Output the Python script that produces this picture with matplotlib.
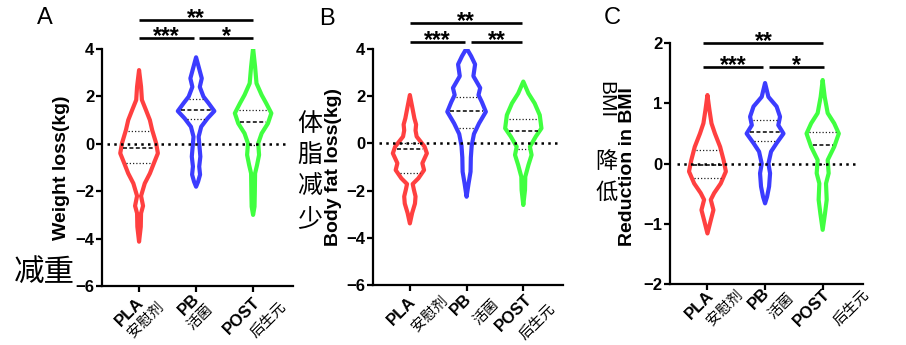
import numpy as np
import matplotlib.pyplot as plt

plt.rcParams['font.family'] = ['Liberation Sans', 'Noto Sans CJK SC']

W, H = 906, 345

groups = ["PLA", "PB", "POST"]
groups_cn = ["安慰剂", "活菌", "后生元"]
colors = ["#ff4040", "#3c3cff", "#40ff40"]

# violin outlines: y level and half width (in category units)
# A - weight loss (kg)
wt_pla_y = [-4.13, -3.5, -2.93, -2.62, -2.2, -1.67, -1.25, -0.82, -0.40, 0.02, 0.58, 1.0, 1.43, 1.85, 2.41, 3.11]
wt_pla_w = [0, 0.03, 0.035, 0.07, 0.035, 0.10, 0.19, 0.26, 0.33, 0.30, 0.23, 0.19, 0.12, 0.05, 0.035, 0]
wt_pb_y = [-1.81, -1.6, -1.3, -0.96, -0.54, -0.12, 0.30, 0.72, 1.07, 1.38, 1.71, 1.99, 2.40, 2.76, 3.25, 3.65]
wt_pb_w = [0, 0.035, 0.07, 0.055, 0.075, 0.06, 0.045, 0.09, 0.20, 0.32, 0.22, 0.13, 0.065, 0.10, 0.045, 0]
wt_post_y = [-3.0, -2.65, -2.09, -1.25, -0.89, -0.47, 0.02, 0.44, 0.86, 1.29, 1.71, 2.06, 2.55, 3.25, 4.03]
wt_post_w = [0, 0.025, 0.03, 0.035, 0.07, 0.105, 0.09, 0.15, 0.26, 0.32, 0.23, 0.15, 0.06, 0.035, 0]
wt_quart = [(-0.80, -0.19, 0.54), (1.05, 1.43, 1.88), (-0.05, 0.93, 1.43)]

# B - body fat loss (kg)
fat_pla_y = [-3.39, -2.95, -2.55, -2.25, -1.95, -1.72, -1.48, -1.13, -0.84, -0.42, -0.14, 0.29, 0.55, 0.80, 1.06, 1.56, 2.05]
fat_pla_w = [0, 0.04, 0.09, 0.10, 0.07, 0.05, 0.15, 0.25, 0.22, 0.30, 0.26, 0.12, 0.10, 0.11, 0.08, 0.04, 0]
fat_pb_y = [-2.26, -1.7, -1.2, -0.6, -0.1, 0.4, 0.85, 1.34, 1.75, 2.05, 2.35, 2.85, 3.35, 3.7, 4.03]
fat_pb_w = [0, 0.035, 0.07, 0.075, 0.09, 0.13, 0.22, 0.34, 0.27, 0.21, 0.24, 0.12, 0.15, 0.08, 0]
fat_post_y = [-2.61, -1.97, -1.41, -0.92, -0.49, -0.14, 0.29, 0.64, 1.20, 1.70, 2.12, 2.62]
fat_post_w = [0, 0.03, 0.035, 0.09, 0.146, 0.117, 0.22, 0.32, 0.29, 0.20, 0.09, 0]
fat_quart = [(-1.24, -0.24, 0.03), (0.64, 1.37, 1.98), (-0.25, 0.54, 1.03)]

# C - reduction in BMI
bmi_pla_y = [-1.16, -0.94, -0.77, -0.60, -0.49, -0.33, -0.13, 0.06, 0.28, 0.50, 0.67, 0.89, 1.14]
bmi_pla_w = [0, 0.058, 0.104, 0.058, 0.116, 0.23, 0.32, 0.28, 0.22, 0.13, 0.07, 0.035, 0]
bmi_pb_y = [-0.66, -0.55, -0.38, -0.16, 0.0, 0.20, 0.34, 0.50, 0.64, 0.78, 0.95, 1.11, 1.34]
bmi_pb_w = [0, 0.035, 0.07, 0.087, 0.058, 0.104, 0.20, 0.32, 0.23, 0.26, 0.20, 0.058, 0]
bmi_post_y = [-1.10, -0.83, -0.60, -0.33, -0.16, 0.06, 0.28, 0.50, 0.67, 0.84, 1.11, 1.39]
bmi_post_w = [0, 0.04, 0.07, 0.058, 0.104, 0.087, 0.20, 0.28, 0.20, 0.087, 0.035, 0]
bmi_quart = [(-0.24, -0.03, 0.23), (0.38, 0.53, 0.73), (-0.01, 0.31, 0.52)]

# significance: (from, to, stars)
wt_sig = [(0, 2, "**"), (0, 0.97, "***"), (1.06, 2, "*")]
fat_sig = [(0, 1.98, "**"), (0, 0.98, "***"), (1.07, 1.98, "**")]
bmi_sig = [(-0.07, 2.01, "**"), (-0.08, 0.97, "***"), (1.06, 2.03, "*")]


def fx(px):
    return px / W


def fy(py):
    return 1 - py / H


panels = [
    dict(rect=(102, 293, 286, 49), ylim=(-6, 4), yticks=range(-6, 5, 2),
         shapes=[(wt_pla_y, wt_pla_w), (wt_pb_y, wt_pb_w), (wt_post_y, wt_post_w)],
         quart=wt_quart, sig=wt_sig, sig_y=(5.22, 4.45), zero=(-0.56, 2.61)),
    dict(rect=(373, 563, 285, 49), ylim=(-6, 4), yticks=range(-6, 5, 2),
         shapes=[(fat_pla_y, fat_pla_w), (fat_pb_y, fat_pb_w), (fat_post_y, fat_post_w)],
         quart=fat_quart, sig=fat_sig, sig_y=(5.09, 4.31), zero=(-0.54, 2.59)),
    dict(rect=(670, 863, 284, 43.3), ylim=(-2, 2), yticks=range(-2, 3),
         shapes=[(bmi_pla_y, bmi_pla_w), (bmi_pb_y, bmi_pb_w), (bmi_post_y, bmi_post_w)],
         quart=bmi_quart, sig=bmi_sig, sig_y=(2.0, 1.6), zero=(-0.53, 2.63)),
]

fig = plt.figure(figsize=(W / 100, H / 100), dpi=100)

for p in panels:
    l, r, b, t = p["rect"]
    ax = fig.add_axes([fx(l), fy(b), fx(r) - fx(l), fy(t) - fy(b)])
    ax.set_xlim(-0.65, 2.70)
    ax.set_ylim(*p["ylim"])
    for s in ["top", "right"]:
        ax.spines[s].set_visible(False)
    for s in ["left", "bottom"]:
        ax.spines[s].set_linewidth(1.6)
    ax.set_yticks(list(p["yticks"]))
    ax.set_xticks([0, 1, 2])
    ax.set_xticklabels([])
    ax.tick_params(width=1.6, length=4, pad=1.5, labelsize=12)
    for lab in ax.get_yticklabels():
        lab.set_fontweight("bold")

    for i, ((yy, ww), q, c) in enumerate(zip(p["shapes"], p["quart"], colors)):
        yy = np.array(yy)
        ww = np.array(ww)
        xs = np.concatenate([i + ww, (i - ww)[::-1]])
        ys = np.concatenate([yy, yy[::-1]])
        ax.fill(xs, ys, facecolor="none", edgecolor=c, lw=3.0, joinstyle="round", zorder=3)
        for k, qv in enumerate(q):
            hw = max(np.interp(qv, yy, ww) - 0.04, 0.01)
            if k == 1:
                ax.plot([i - hw, i + hw], [qv, qv], color="k", lw=1.1, dashes=(2.6, 1.6), zorder=4)
            else:
                ax.plot([i - hw, i + hw], [qv, qv], color="#222222", lw=0.9, dashes=(1, 1.6), zorder=4)

    ax.plot(p["zero"], [0, 0], color="k", lw=1.8, dashes=(1, 1.7), zorder=5)

    top_y, low_y = p["sig_y"]
    for j, (x0, x1, stars) in enumerate(p["sig"]):
        yb = top_y if j == 0 else low_y
        ax.plot([x0, x1], [yb, yb], color="k", lw=1.9, clip_on=False, solid_capstyle="butt")
        ax.annotate(stars, xy=((x0 + x1) / 2, yb), xytext=(0, -3.5), textcoords="offset points",
                    ha="center", va="baseline", fontsize=16.5, fontweight="bold", annotation_clip=False)

# x labels (English bold + Chinese), rotated 45
en_pos = [[(129, 312), (188.5, 305), (242, 315.5)],
          [(401.5, 311.5), (461, 305), (514, 312.5)],
          [(699.5, 305.5), (758.5, 298.5), (811.5, 307.5)]]
cn_pos = [[(146, 320), (200, 317.5), (268, 320)],
          [(430, 313.5), (486, 312.5), (537.5, 321.5)],
          [(725, 307.5), (781, 306), (851.5, 308)]]
for pe, pc in zip(en_pos, cn_pos):
    for g, gc, (ex, ey), (cx, cy) in zip(groups, groups_cn, pe, pc):
        fig.text(fx(ex), fy(ey), g, rotation=45, rotation_mode="anchor", ha="center", va="center",
                 fontsize=12, fontweight="bold")
        fig.text(fx(cx), fy(cy), gc, rotation=45, rotation_mode="anchor", ha="center", va="center",
                 fontsize=10.5, family=["Noto Sans CJK SC"])

# y labels
fig.text(fx(61.7), fy(167.5), "Weight loss(kg)", rotation=90, ha="center", va="center",
         fontsize=14, fontweight="bold")
fig.text(fx(333.3), fy(166.7), "Body fat loss(kg)", rotation=90, ha="center", va="center",
         fontsize=14, fontweight="bold")
fig.text(fx(627), fy(166.7), "Reduction in BMI", rotation=90, ha="center", va="center",
         fontsize=14, fontweight="bold")

# Chinese notes
fig.text(fx(44), fy(272), "减重", ha="center", va="center", fontsize=22, family=["Noto Sans CJK SC"])
for ch, yc in zip("体脂减少", [124, 156, 187, 219]):
    fig.text(fx(310), fy(yc), ch, ha="center", va="center", fontsize=18, family=["Noto Sans CJK SC"])
fig.text(fx(605.5), fy(100), "BMI", rotation=270, ha="center", va="center", fontsize=15)
for ch, yc in zip("降低", [162, 192]):
    fig.text(fx(606.7), fy(yc), ch, ha="center", va="center", fontsize=16, family=["Noto Sans CJK SC"])

# panel letters
for letter, (lx, ly) in zip("ABC", [(45, 18), (327, 19), (612, 18)]):
    fig.text(fx(lx), fy(ly), letter, ha="center", va="center", fontsize=17)

fig.savefig("out.png", dpi=100)
